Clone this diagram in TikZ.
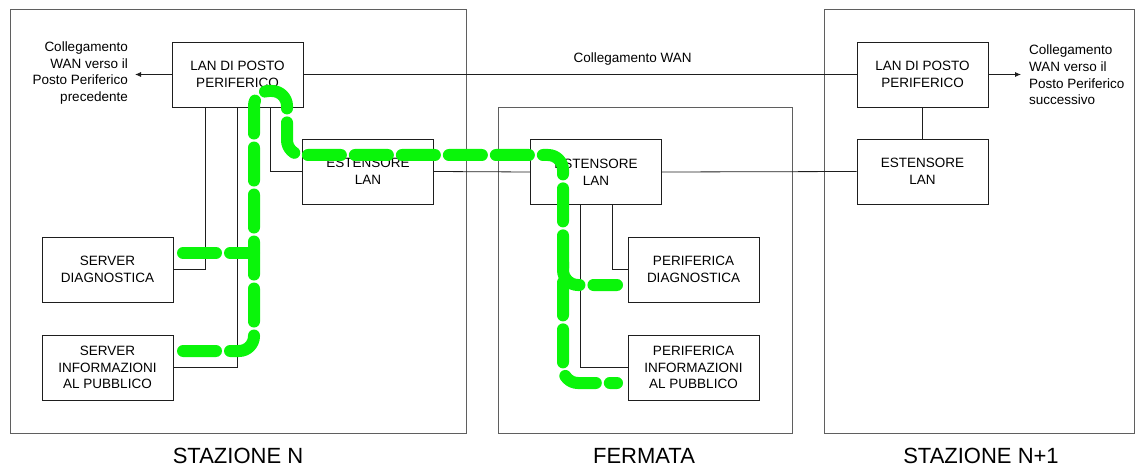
\documentclass[tikz,border=0pt]{standalone}
\usepackage{fontspec}
\setmainfont{Liberation Sans}
\usetikzlibrary{arrows.meta,positioning}
\definecolor{Wire}{RGB}{30,30,30}
\definecolor{Frame}{RGB}{95,95,95}
\definecolor{Route}{RGB}{10,245,10}
\tikzset{
  zone/.style={draw=Frame,line width=0.9pt,inner sep=0pt},
  unit/.style={draw=Wire,line width=0.8pt,minimum width=131pt,minimum height=65pt,inner sep=0pt,align=center,font=\fontsize{13.5pt}{16.7pt}\selectfont},
  zlab/.style={font=\fontsize{22pt}{26pt}\selectfont},
  wlab/.style={font=\fontsize{13.5pt}{16.7pt}\selectfont,inner sep=0pt},
  link/.style={draw=Wire,line width=0.8pt},
  larr/.style={link,-{Latex[length=6pt,width=5pt]}},
  route/.style={draw=Route,line width=12pt,line cap=round,rounded corners=15pt,dash pattern=on 33pt off 14pt}
}
\begin{document}
\begin{tikzpicture}[x=1pt,y=-1pt]
\useasboundingbox (0,0) rectangle (1144,468);
% zone
\node[zone,minimum width=456pt,minimum height=424pt] (stazN) at (238,221) {};
\node[zone,minimum width=294pt,minimum height=326pt] (ferm) at (645,270) {};
\node[zone,minimum width=310pt,minimum height=424pt] (stazS) at (979,221) {};
\node[zlab] (labN) at (238,456) {STAZIONE N};
\node[zlab] (labF) at (644,456) {FERMATA};
\node[zlab] (labS) at (981,456) {STAZIONE N+1};
% apparati
\node[unit] (lanN) at (237.5,74.5) {LAN DI POSTO\\PERIFERICO};
\node[unit] (estN) at (368,171.5) {ESTENSORE\\LAN};
\node[unit] (srvdiag) at (107.5,269.5) {SERVER\\DIAGNOSTICA};
\node[unit] (srvinfo) at (107.5,367.5) {SERVER\\INFORMAZIONI\\AL PUBBLICO};
\node[unit] (estF) at (596,172) {ESTENSORE\\LAN};
\node[unit] (perdiag) at (693.5,269.5) {PERIFERICA\\DIAGNOSTICA};
\node[unit] (perinfo) at (693.5,367.5) {PERIFERICA\\INFORMAZIONI\\AL PUBBLICO};
\node[unit] (lanS) at (922.5,74.5) {LAN DI POSTO\\PERIFERICO};
\node[unit] (estS) at (922.5,171.5) {ESTENSORE\\LAN};
% collegamenti WAN
\coordinate (wanprev) at (135,74.5);
\coordinate (wannext) at (1021,74.5);
\node[wlab,anchor=east,align=right] (txtprev) at (128,73) {Collegamento\\WAN verso il\\Posto Periferico\\precedente};
\node[wlab,anchor=west,align=left] (txtnext) at (1029,75) {Collegamento\\WAN verso il\\Posto Periferico\\successivo};
\draw[larr] (lanN.west) -- (wanprev);
\draw[larr] (lanS.east) -- (wannext);
\draw[link] (lanN.east) -- node[wlab,pos=0.595,above=9pt]{Collegamento WAN} (lanS.west);
\draw[link] (lanS.south) -- (estS.north);
\draw[link] (estN.east) -- (estF.west);
\draw[link] (estF.east) -- (estS.west);
% LAN locali
\draw[link] (srvdiag.east) -| ([xshift=-32.5pt]lanN.south);
\draw[link] (srvinfo.east) -| (lanN.south);
\draw[link] (estN.west) -| ([xshift=32.5pt]lanN.south);
\draw[link] (perdiag.west) -| ([xshift=16pt]estF.south);
\draw[link] (perinfo.west) -| ([xshift=-16pt]estF.south);
% percorso
\draw[route] (183,351) -- (254,351) -- (254,91) -- (287,91) -- (287,155) -- (563,155) -- (563,383) -- (617,383);
\draw[route] (183,253) -- (254,253);
\draw[route] (563,262) -- (563,285) -- (617,285);
\end{tikzpicture}
\end{document}
